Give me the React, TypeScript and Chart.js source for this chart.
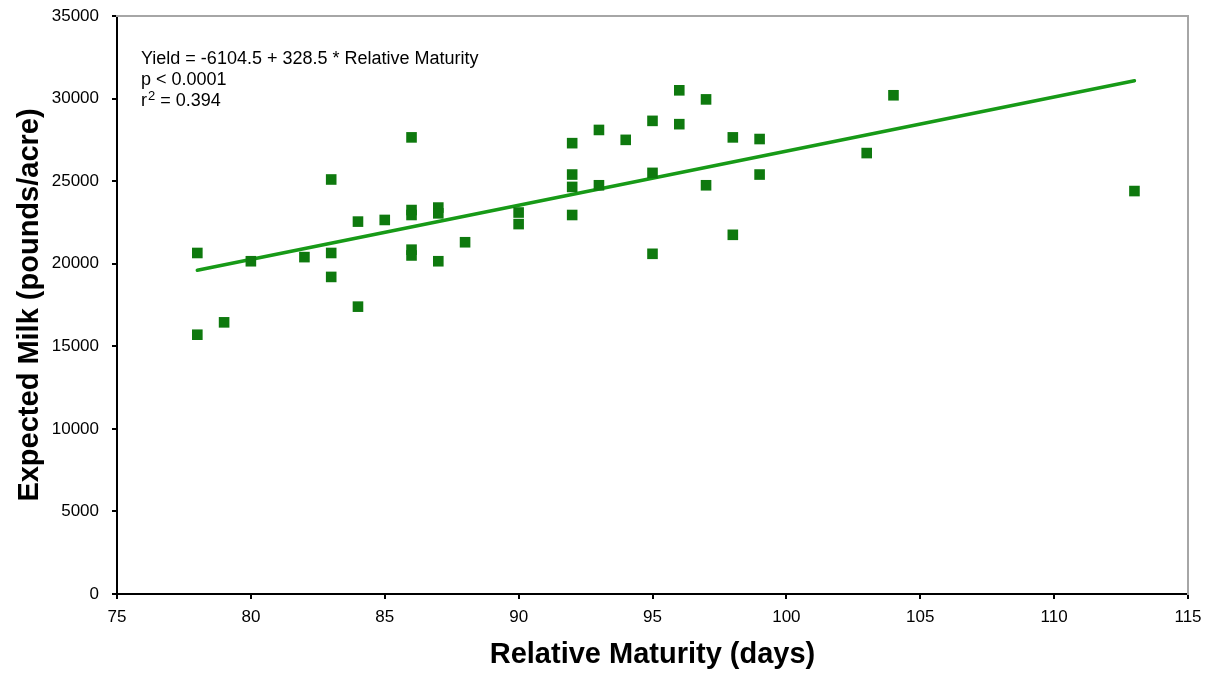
import { useEffect, useRef } from "react";
import { Chart, registerables } from "chart.js";

Chart.register(...registerables);

// Observed hybrids: relative maturity (days) and expected milk (pounds/acre)
const maturityDays: number[] = [
  78, 78, 79, 80, 82, 83, 83, 83, 84, 84, 85, 86, 86, 86, 86, 86, 87, 87, 87, 88, 90, 90,
  92, 92, 92, 92, 93, 93, 94, 95, 95, 95, 96, 96, 97, 97, 98, 98, 99, 99, 103, 104, 113,
];
const expectedMilk: number[] = [
  20650, 15700, 16450, 20150, 20400, 25100, 20650, 19200, 22550, 17400, 22650, 27650, 23250,
  22950, 20850, 20500, 23400, 23050, 20150, 21300, 23100, 22400, 27300, 25400, 24650, 22950,
  28100, 24750, 27500, 28650, 25500, 20600, 30500, 28450, 29950, 24750, 27650, 21750, 27550,
  25400, 26700, 30200, 24400,
];

// Fitted regression line end points
const fitDays: number[] = [78, 113];
const fitMilk: number[] = [19600, 31080];

// Axis ranges
const xMin = 75;
const xMax = 115;
const xStep = 5;
const yMin = 0;
const yMax = 35000;
const yStep = 5000;

// Annotation lines: [main text, superscript, rest]
const annotationLines: [string, string, string][] = [
  ["Yield = -6104.5 + 328.5 * Relative Maturity", "", ""],
  ["p < 0.0001", "", ""],
  ["r", "2", " = 0.394"],
];

const FONT = '"Liberation Sans", Arial, Helvetica, sans-serif';

export default function App() {
  const canvasRef = useRef<HTMLCanvasElement | null>(null);

  useEffect(() => {
    const canvas = canvasRef.current;
    if (!canvas) return;

    const annotationPlugin = {
      id: "annotationText",
      afterDatasetsDraw(chart: any) {
        const { ctx, chartArea } = chart;
        ctx.save();
        ctx.fillStyle = "#000";
        ctx.textAlign = "left";
        ctx.textBaseline = "alphabetic";
        annotationLines.forEach(([main, sup, rest], i) => {
          let x = chartArea.left + 24;
          const y = chartArea.top + 48 + i * 21;
          ctx.font = `18px ${FONT}`;
          ctx.fillText(main, x, y);
          x += ctx.measureText(main).width;
          if (sup) {
            ctx.font = `13px ${FONT}`;
            ctx.fillText(sup, x + 1, y - 6);
            x += ctx.measureText(sup).width + 1;
          }
          if (rest) {
            ctx.font = `18px ${FONT}`;
            ctx.fillText(rest, x, y);
          }
        });
        ctx.restore();
      },
    };

    const chart = new Chart(canvas, {
      type: "scatter",
      data: {
        datasets: [
          {
            type: "scatter",
            label: "Hybrids",
            data: maturityDays.map((d, i) => ({ x: d, y: expectedMilk[i] })),
            pointStyle: "rect",
            pointRadius: 7.5,
            pointHoverRadius: 7.5,
            backgroundColor: "#0e790e",
            borderColor: "#0e790e",
            borderWidth: 0,
          },
          {
            type: "line",
            label: "Fit",
            data: fitDays.map((d, i) => ({ x: d, y: fitMilk[i] })),
            borderColor: "#179a17",
            borderWidth: 3.5,
            borderCapStyle: "round",
            pointRadius: 0,
            fill: false,
            tension: 0,
          } as any,
        ],
      },
      options: {
        animation: false,
        responsive: true,
        maintainAspectRatio: false,
        layout: { padding: { top: 16, right: 20, left: 0, bottom: 0 } },
        plugins: {
          legend: { display: false },
          tooltip: { enabled: false },
        },
        scales: {
          x: {
            type: "linear",
            position: "bottom",
            min: xMin,
            max: xMax,
            ticks: {
              stepSize: xStep,
              color: "#000",
              font: { family: FONT, size: 17 },
              padding: 8,
              maxRotation: 0,
              autoSkip: false,
              callback: (v: any) => String(v),
            },
            grid: {
              drawOnChartArea: false,
              drawTicks: true,
              tickLength: 5,
              color: "#000",
              lineWidth: 2,
            },
            border: { display: true, color: "#000", width: 2 },
            title: {
              display: true,
              text: "Relative Maturity (days)",
              color: "#000",
              font: { family: FONT, size: 29, weight: "bold" },
              padding: { top: 0, bottom: 1 },
            },
            afterFit: (s: any) => {
              s.height = 79;
              s.paddingLeft = 0;
              s.paddingRight = 0;
            },
          },
          y: {
            type: "linear",
            position: "left",
            min: yMin,
            max: yMax,
            ticks: {
              stepSize: yStep,
              color: "#000",
              font: { family: FONT, size: 17 },
              padding: 13,
              callback: (v: any) => String(v),
            },
            grid: {
              drawOnChartArea: false,
              drawTicks: true,
              tickLength: 5,
              color: "#000",
              lineWidth: 2,
            },
            border: { display: true, color: "#000", width: 2 },
            title: {
              display: true,
              text: "Expected Milk (pounds/acre)",
              color: "#000",
              font: { family: FONT, size: 29, weight: "bold" },
              padding: { top: 13, bottom: 0 },
            },
            afterFit: (s: any) => {
              s.width = 117;
              s.paddingTop = 0;
              s.paddingBottom = 0;
            },
          },
          xTop: {
            type: "linear",
            position: "top",
            min: xMin,
            max: xMax,
            ticks: { display: false },
            grid: { display: false, drawTicks: false },
            border: { display: true, color: "#a6a6a6", width: 2 },
            afterFit: (s: any) => {
              s.height = 0;
              s.paddingLeft = 0;
              s.paddingRight = 0;
            },
          },
          yRight: {
            type: "linear",
            position: "right",
            min: yMin,
            max: yMax,
            ticks: { display: false },
            grid: { display: false, drawTicks: false },
            border: { display: true, color: "#a6a6a6", width: 2 },
            afterFit: (s: any) => {
              s.width = 0;
              s.paddingTop = 0;
              s.paddingBottom = 0;
            },
          },
        },
      } as any,
      plugins: [annotationPlugin],
    });

    return () => {
      chart.destroy();
    };
  }, []);

  return (
    <div
      style={{
        position: "absolute",
        left: 0,
        top: 0,
        width: "1208px",
        height: "673px",
        background: "#fff",
      }}
    >
      <canvas ref={canvasRef} />
    </div>
  );
}
